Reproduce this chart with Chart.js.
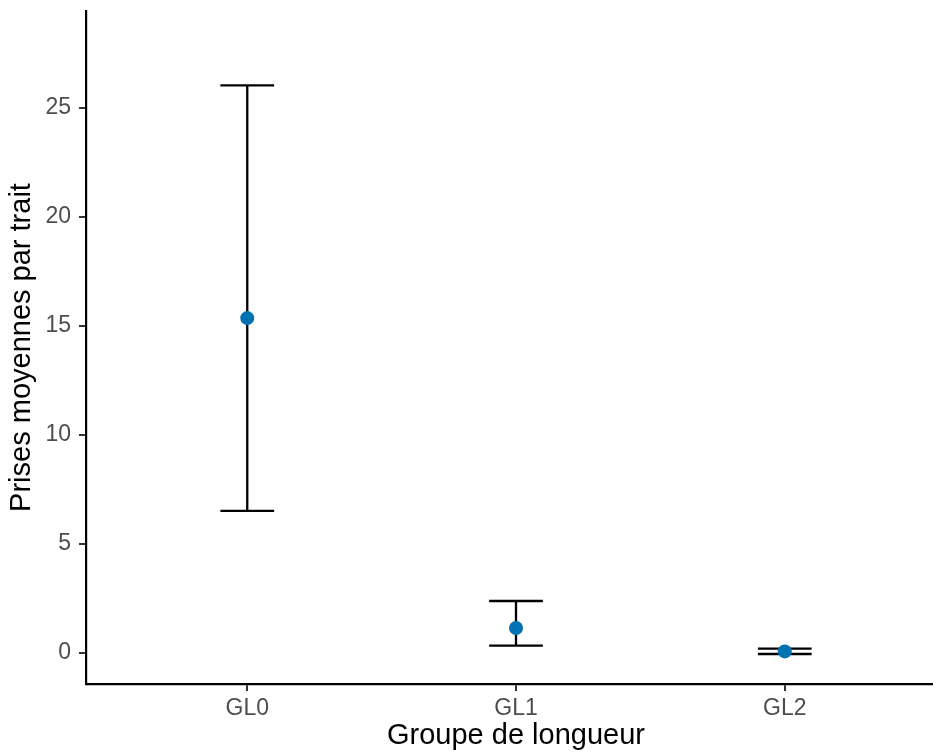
<!DOCTYPE html>
<html>
<head>
<meta charset="utf-8">
<script src="https://cdn.jsdelivr.net/npm/chart.js@4.4.1/dist/chart.umd.min.js"></script>
<style>
  html, body { margin: 0; padding: 0; overflow: hidden; background: #fff; width: 933px; height: 755px; }
  #wrap { width: 953px; height: 755px; }
</style>
</head>
<body>
<div id="wrap"><canvas id="c" width="953" height="755"></canvas></div>
<script>
// ---- data ----
const categories = ["GL0", "GL1", "GL2"];
const means = [15.35, 1.14, 0.07];
const lowerCI = [6.51, 0.33, -0.05];
const upperCI = [26.02, 2.38, 0.20];
const yTicks = [0, 5, 10, 15, 20, 25];
const xTitle = "Groupe de longueur";
const yTitle = "Prises moyennes par trait";

const FONT = "'Liberation Sans', Arial, sans-serif";
const CAP_HALF = 0.1; // half width of the caps in category units

const errorBars = {
  id: 'errorBars',
  beforeDatasetsDraw(chart) {
    const ctx = chart.ctx;
    const xs = chart.scales.x, ys = chart.scales.y;
    ctx.save();
    ctx.strokeStyle = '#000';
    ctx.lineWidth = 2.3;
    ctx.lineCap = 'butt';
    categories.forEach((c, i) => {
      const x = xs.getPixelForValue(i);
      const xl = xs.getPixelForValue(i - CAP_HALF);
      const xr = xs.getPixelForValue(i + CAP_HALF);
      const yl = ys.getPixelForValue(lowerCI[i]);
      const yu = ys.getPixelForValue(upperCI[i]);
      ctx.beginPath();
      ctx.moveTo(x, yl); ctx.lineTo(x, yu);
      ctx.moveTo(xl, yl); ctx.lineTo(xr, yl);
      ctx.moveTo(xl, yu); ctx.lineTo(xr, yu);
      ctx.stroke();
    });
    ctx.restore();
  }
};

new Chart(document.getElementById('c'), {
  type: 'scatter',
  data: {
    datasets: [{
      data: means.map((m, i) => ({ x: i, y: m })),
      backgroundColor: '#0072B2',
      borderWidth: 0,
      pointRadius: 7,
      pointHoverRadius: 7
    }]
  },
  options: {
    responsive: false,
    animation: false,
    events: [],
    layout: { padding: { top: 11, right: 0, bottom: 0, left: 0 } },
    plugins: { legend: { display: false }, tooltip: { enabled: false } },
    scales: {
      x: {
        type: 'linear',
        min: -0.6,
        max: 2.6,
        afterBuildTicks: s => { s.ticks = categories.map((c, i) => ({ value: i })); },
        afterFit: s => { s.height = 71; s.paddingLeft = 0; s.paddingRight = 0; },
        ticks: {
          callback: v => categories[v],
          color: '#4D4D4D',
          font: { family: FONT, size: 23 },
          padding: 4,
          maxRotation: 0,
          autoSkip: false
        },
        grid: { drawOnChartArea: false, drawTicks: true, tickLength: 7, color: '#333', lineWidth: 2 },
        border: { display: true, color: '#000', width: 2.2 },
        title: {
          display: true,
          text: xTitle,
          color: '#000',
          font: { family: FONT, size: 29 },
          padding: { top: 0, bottom: 2 }
        }
      },
      y: {
        type: 'linear',
        min: -1.425,
        max: 29.43,
        afterBuildTicks: s => { s.ticks = yTicks.map(v => ({ value: v })); },
        afterFit: s => { s.width = 86; s.paddingTop = 0; s.paddingBottom = 0; },
        ticks: {
          color: '#4D4D4D',
          font: { family: FONT, size: 23 },
          padding: 8
        },
        grid: { drawOnChartArea: false, drawTicks: true, tickLength: 7, color: '#333', lineWidth: 2 },
        border: { display: true, color: '#000', width: 2.2 },
        title: {
          display: true,
          text: yTitle,
          color: '#000',
          font: { family: FONT, size: 29 },
          padding: { top: 5, bottom: 0 }
        }
      }
    }
  },
  plugins: [errorBars]
});
</script>
</body>
</html>
